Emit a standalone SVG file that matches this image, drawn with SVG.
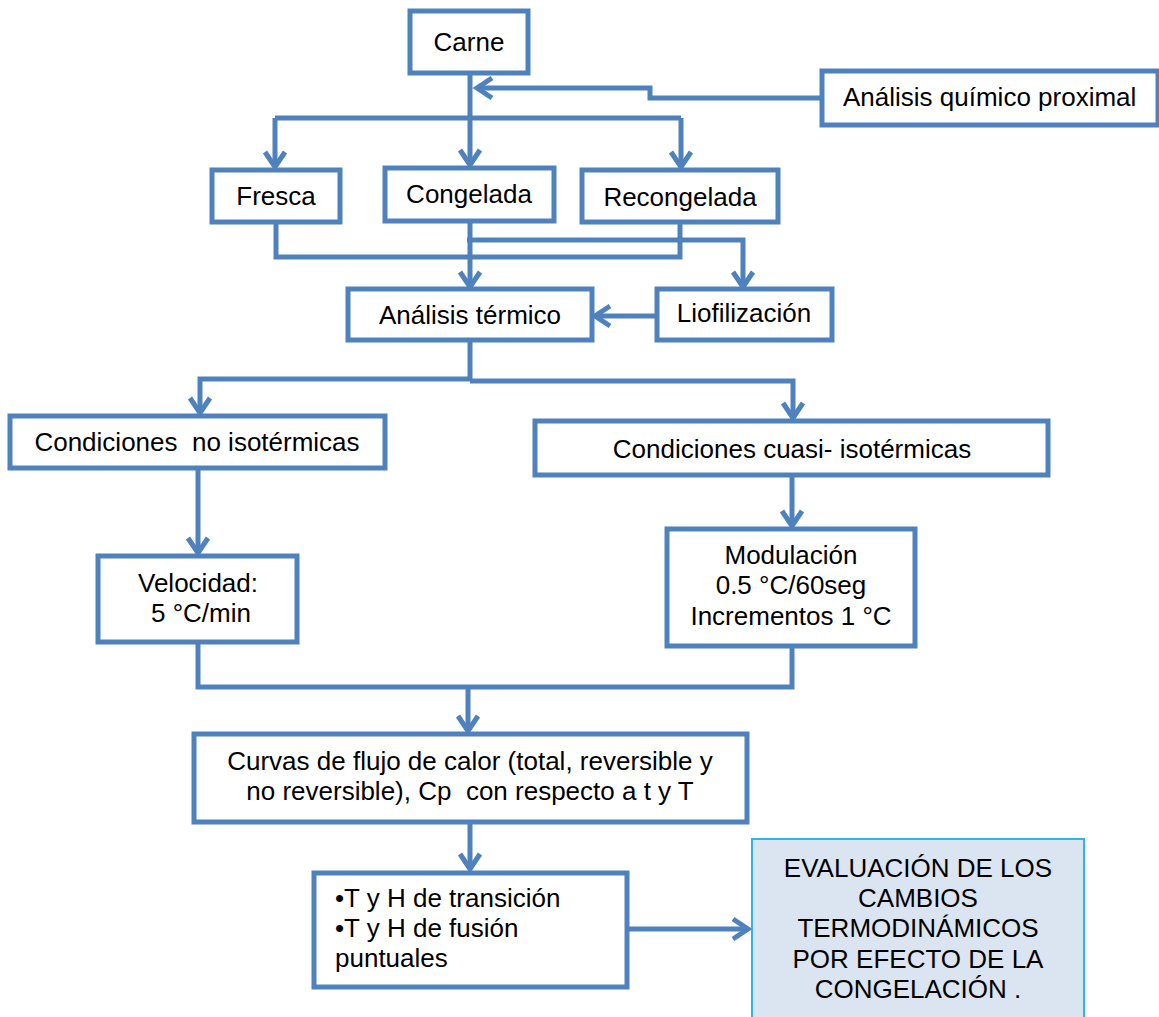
<svg xmlns="http://www.w3.org/2000/svg" width="1159" height="1017" viewBox="0 0 1159 1017">
  <style>
    .box { fill: #ffffff; stroke: #4f81bd; stroke-width: 5; }
    .hl { fill: #dbe5f1; stroke: #2fb3e8; stroke-width: 2; }
    .t { font-family: "Liberation Sans", Arial, sans-serif; font-size: 26px; fill: #000000; white-space: pre; }
    .c { text-anchor: middle; }
    .ln { fill: none; stroke: #4f81bd; stroke-width: 5; stroke-linejoin: miter; }
  </style>
  <defs>
    <marker id="arr" markerUnits="userSpaceOnUse" markerWidth="34" markerHeight="34" viewBox="-22 -17 34 34" refX="0" refY="0" orient="auto">
      <path d="M-15,-10 L0,0 L-15,10" fill="none" stroke="#4f81bd" stroke-width="5" stroke-linejoin="miter"/>
    </marker>
  </defs>

  <rect width="1159" height="1017" fill="#ffffff"/>

  <!-- connectors -->
  <g id="connectors" class="ln">
    <path d="M470,73 V165" marker-end="url(#arr)"/>
    <path d="M822,98 H650 V88 H477" marker-end="url(#arr)"/>
    <path d="M275,118 H681"/>
    <path d="M275,118 V167" marker-end="url(#arr)"/>
    <path d="M681,118 V167" marker-end="url(#arr)"/>
    <path d="M276,222 V257 H680 V222"/>
    <path d="M470,221 V287" marker-end="url(#arr)"/>
    <path d="M467,240 H743 V287" marker-end="url(#arr)"/>
    <path d="M657,316 H595" marker-end="url(#arr)"/>
    <path d="M470,340 V379 H200 V413" marker-end="url(#arr)"/>
    <path d="M470,381 H793 V418" marker-end="url(#arr)"/>
    <path d="M198,468 V553" marker-end="url(#arr)"/>
    <path d="M792,475 V526" marker-end="url(#arr)"/>
    <path d="M198,642 V687 H792 V646"/>
    <path d="M468,687 V731" marker-end="url(#arr)"/>
    <path d="M470,822 V869" marker-end="url(#arr)"/>
    <path d="M627,929 H748" marker-end="url(#arr)"/>
  </g>

  <!-- nodes -->
  <g id="carne">
    <rect class="box" x="410" y="11" width="118" height="62"/>
    <text class="t c" x="469" y="51">Carne</text>
  </g>
  <g id="analisis-quimico">
    <rect class="box" x="822" y="71" width="336" height="54"/>
    <text class="t" x="843" y="106">Análisis químico proximal</text>
  </g>
  <g id="fresca">
    <rect class="box" x="212" y="170" width="128" height="52"/>
    <text class="t c" x="276" y="205">Fresca</text>
  </g>
  <g id="congelada">
    <rect class="box" x="385" y="168" width="169" height="53"/>
    <text class="t c" x="469" y="203">Congelada</text>
  </g>
  <g id="recongelada">
    <rect class="box" x="582" y="170" width="196" height="52"/>
    <text class="t c" x="680" y="206">Recongelada</text>
  </g>
  <g id="analisis-termico">
    <rect class="box" x="348" y="289" width="244" height="51"/>
    <text class="t c" x="470" y="324">Análisis térmico</text>
  </g>
  <g id="liofilizacion">
    <rect class="box" x="657" y="289" width="175" height="51"/>
    <text class="t c" x="744" y="322">Liofilización</text>
  </g>
  <g id="no-isotermicas">
    <rect class="box" x="10" y="416" width="375" height="52"/>
    <text class="t c" x="197" y="451">Condiciones  no isotérmicas</text>
  </g>
  <g id="cuasi-isotermicas">
    <rect class="box" x="535" y="421" width="513" height="54"/>
    <text class="t c" x="792" y="458">Condiciones cuasi- isotérmicas</text>
  </g>
  <g id="velocidad">
    <rect class="box" x="98" y="556" width="199" height="86"/>
    <text class="t c" x="198" y="592">Velocidad:</text>
    <text class="t c" x="201" y="622">5 °C/min</text>
  </g>
  <g id="modulacion">
    <rect class="box" x="667" y="529" width="248" height="117"/>
    <text class="t c" x="791" y="564">Modulación</text>
    <text class="t c" x="791" y="594">0.5 °C/60seg</text>
    <text class="t c" x="791" y="625">Incrementos 1 °C</text>
  </g>
  <g id="curvas">
    <rect class="box" x="194" y="734" width="553" height="88"/>
    <text class="t c" x="470" y="770">Curvas de flujo de calor (total, reversible y</text>
    <text class="t c" x="470" y="800">no reversible), Cp  con respecto a t y T</text>
  </g>
  <g id="transiciones">
    <rect class="box" x="314" y="873" width="313" height="114"/>
    <text class="t" x="335" y="907">•T y H de transición</text>
    <text class="t" x="335" y="937">•T y H de fusión</text>
    <text class="t" x="335" y="967">puntuales</text>
  </g>
  <g id="evaluacion">
    <rect class="hl" x="752" y="839" width="332" height="190"/>
    <text class="t c" x="918" y="877">EVALUACIÓN DE LOS</text>
    <text class="t c" x="918" y="907">CAMBIOS</text>
    <text class="t c" x="918" y="937">TERMODINÁMICOS</text>
    <text class="t c" x="918" y="968">POR EFECTO DE LA</text>
    <text class="t c" x="918" y="998">CONGELACIÓN .</text>
  </g>
</svg>
